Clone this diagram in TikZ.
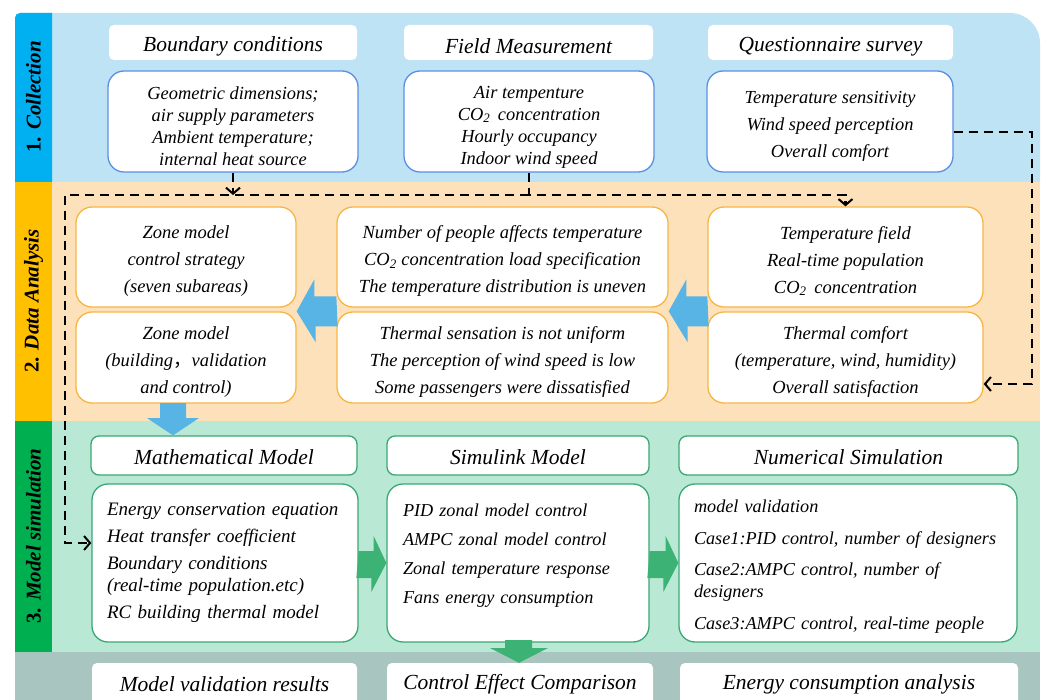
\documentclass[tikz,border=0pt]{standalone}
\usepackage{fontspec}
\setmainfont{Liberation Serif}
\newfontfamily\cjk{Noto Sans CJK SC}
\usetikzlibrary{arrows.meta}

\definecolor{bandA}{HTML}{BEE3F4}
\definecolor{stripA}{HTML}{00B0F0}
\definecolor{bandB}{HTML}{FDE1BA}
\definecolor{stripB}{HTML}{FFC000}
\definecolor{bandC}{HTML}{B9E9D4}
\definecolor{stripC}{HTML}{00B050}
\definecolor{bandD}{HTML}{A8C6BF}
\definecolor{lineA}{HTML}{5B8FE3}
\definecolor{lineB}{HTML}{F7B546}
\definecolor{lineC}{HTML}{3AA872}
\definecolor{arrA}{HTML}{57B4E4}
\definecolor{arrC}{HTML}{3CB274}

\newcommand{\lift}[1]{\rule{0pt}{#1}}

\begin{document}
\begin{tikzpicture}
		[x=1pt,y=-1pt,
		lower/.style ={execute at begin node={\rule{0pt}{#1}}},
		head/.style ={rectangle, fill=white, rounded corners=5pt, minimum height=35pt, inner sep=0pt, font=\fontsize{21.5}{22}\selectfont\itshape},
		headc/.style ={head, lower=23pt},
		headg/.style ={head, draw=lineC, line width=1.3pt, rounded corners=8pt, minimum height=39pt, lower=19pt},
		headd/.style ={head, minimum height=42pt},
		boxa/.style ={rectangle, fill=white, draw=lineA, line width=1.3pt, rounded corners=16pt, align=center, minimum height=101pt, inner sep=0pt, font=\fontsize{18.4}{22}\selectfont\itshape},
		boxb/.style ={boxa, draw=lineB, minimum height=100pt, font=\fontsize{18.5}{27}\selectfont\itshape},
		boxc/.style ={boxa, draw=lineC, align=left, minimum height=158pt, inner xsep=15pt, font=\fontsize{18.2}{22}\selectfont\itshape},
		dline/.style ={draw, black, line width=2.2pt, dash pattern=on 9pt off 6pt, -{Straight Barb[length=6pt,width=14pt,line width=2pt]}},
		tag/.style ={rotate=90, font=\fontsize{21}{22}\selectfont\bfseries},
		]
		\clip (0,0) rectangle (1046,700);

		% bands
		\fill[bandA] (15,182) [rounded corners=5pt] -- (15,13) [rounded corners=30pt] -- (1040,13) [sharp corners] -- (1040,182) -- cycle;
		\fill[stripA] (15,182) [rounded corners=5pt] -- (15,13) [sharp corners] -- (52,13) -- (52,182) -- cycle;
		\fill[bandB] (15,182) rectangle (1040,421);
		\fill[stripB] (15,182) rectangle (52,421);
		\fill[bandC] (15,421) rectangle (1040,652);
		\fill[stripC] (15,421) rectangle (52,652);
		\fill[bandD] (15,652) rectangle (1040,700);

		\draw (33.5,97) node[tag] (L1) {1. \textit{Collection}};
		\draw (33.5,301) node[tag] (L2) {2. \textit{Data Analysis}};
		\draw (33.5,536) node[tag] (L3) {3. \textit{Model simulation}};

		% collection
		\draw (233,42.5) node[headc, minimum width=248pt] (BCh) {Boundary conditions};
		\draw (528.5,42.5) node[headc, minimum width=249pt] (FMh) {Field Measurement};
		\draw (830.5,42.5) node[headc, minimum width=245pt] (QSh) {Questionnaire survey};
		\draw (233,121.5) node[boxa, minimum width=250pt] (BCc) {\lift{23pt}Geometric dimensions;\\ air supply parameters\\ Ambient temperature;\\ internal heat source};
		\draw (529,121.5) node[boxa, minimum width=250pt] (FMc) {\lift{23pt}Air tempenture\\ CO\textsubscript{2}\, concentration\\ Hourly occupancy\\ Indoor wind speed};
		\draw (830,121.5) node[boxa, minimum width=246pt, font=\fontsize{18.4}{27}\selectfont\itshape] (QSc) {\lift{22pt}Temperature sensitivity\\ Wind speed perception\\ Overall comfort};

		% data analysis
		\draw (186,257) node[boxb, minimum width=220pt] (ZS) {\lift{21pt}Zone model\\ control strategy\\ (seven subareas)};
		\draw (186,357.5) node[boxb, minimum width=220pt, minimum height=91pt] (ZB) {\lift{21pt}Zone model\\ (building{\cjk ，}validation\\ and control)};
		\draw (502.5,257) node[boxb, minimum width=331pt] (NP) {\lift{21pt}Number of people affects temperature\\ CO\textsubscript{2} concentration load specification\\ The temperature distribution is uneven};
		\draw (502.5,357.5) node[boxb, minimum width=331pt, minimum height=91pt] (TS) {\lift{21pt}Thermal sensation is not uniform\\ The perception of wind speed is low\\ Some passengers were dissatisfied};
		\draw (845.5,257) node[boxb, minimum width=275pt] (TF) {\lift{21pt}Temperature field\\ Real-time population\\ CO\textsubscript{2}\, concentration};
		\draw (845.5,357.5) node[boxb, minimum width=275pt, minimum height=91pt] (TC) {\lift{21pt}Thermal comfort\\ (temperature, wind, humidity)\\ Overall satisfaction};

		% model simulation
		\draw (224,455.5) node[headg, minimum width=266pt] (MMh) {Mathematical Model};
		\draw (518,455.5) node[headg, minimum width=262pt] (SMh) {Simulink Model};
		\draw (848.5,455.5) node[headg, minimum width=339pt] (NSh) {Numerical Simulation};
		\draw (225,563) node[boxc, minimum width=266pt, text width=236pt, font=\fontsize{19}{22}\selectfont\itshape] (MMc) {Energy conservation equation\\[5pt] Heat transfer coefficient\\[5pt] Boundary conditions\\ (real-time population.etc)\\[5pt] RC building thermal model};
		\draw (518,563) node[boxc, minimum width=262pt, text width=230pt] (SMc) {PID zonal model control\\[7pt] AMPC zonal model control\\[7pt] Zonal temperature response\\[7pt] Fans energy consumption\\[-4pt]\mbox{}};
		\draw (848,563) node[boxc, minimum width=338pt, text width=308pt] (NSc) {\lift{19pt}model validation\\[10pt] Case1:PID control, number of designers\\[9pt] Case2:AMPC control, number of\\ designers\\[10pt] Case3:AMPC control, real-time people};

		% results
		\draw (224.5,684) node[headd, minimum width=265pt] (MV) {Model validation results};
		\draw (520,684) node[headd, minimum width=266pt] (CE) {Control Effect Comparison};
		\draw (849,684) node[headd, minimum width=338pt] (EC) {Energy consumption analysis};

		% block arrows
		\fill[arrA] (TS.north west) ++(0,-15) -- ++(-22,0) -- ++(0,-17) -- (ZB.north east) -- ++(19,31) -- ++(0,-16) -- ++(22,0) -- cycle;
		\fill[arrA] (TC.north west) ++(0,-15) -- ++(-21,0) -- ++(0,-17) -- (TS.north east) -- ++(19,31) -- ++(0,-16) -- ++(21,0) -- cycle;
		\fill[arrA] (160,403) -- (160,418) -- (147,418) -- (MMh.north -| 173,0) -- (199,418) -- (186,418) -- (186,403) -- cycle;
		\fill[arrC] (MMc.east) ++(0,-12) -- ++(15,0) -- ++(0,-15) -- (SMc.west) -- ++(-15,29) -- ++(0,-14) -- ++(-15,0) -- cycle;
		\fill[arrC] (SMc.east) ++(0,-12) -- ++(16,0) -- ++(0,-15) -- (NSc.west) -- ++(-15,29) -- ++(0,-14) -- ++(-16,0) -- cycle;
		\fill[arrC] (505,640) -- (505,648) -- (490,648) -- (CE.north -| 519,0) -- (548,648) -- (532,648) -- (532,640) -- cycle;

		% dashed feedback lines
		\coordinate (DL) at (65,195);
		\coordinate (DR) at (845.5,195);
		\coordinate (DB) at (65,543);
		\coordinate (QR) at (1032,132);
		\coordinate (QB) at (1032,384);
		\path[dline]
		(BCc.south) -- (BCc.south |- DL);
		\path[dline]
		(FMc.south) |- (DR) -- (TF.north);
		\path[dline]
		(FMc.south |- DL) -- (DL) -- (DB) -- (DB -| MMc.west);
		\path[dline]
		(QSc.east |- QR) -- (QR) -- (QB) -- (QB -| TC.east);

	\end{tikzpicture}
\end{document}
